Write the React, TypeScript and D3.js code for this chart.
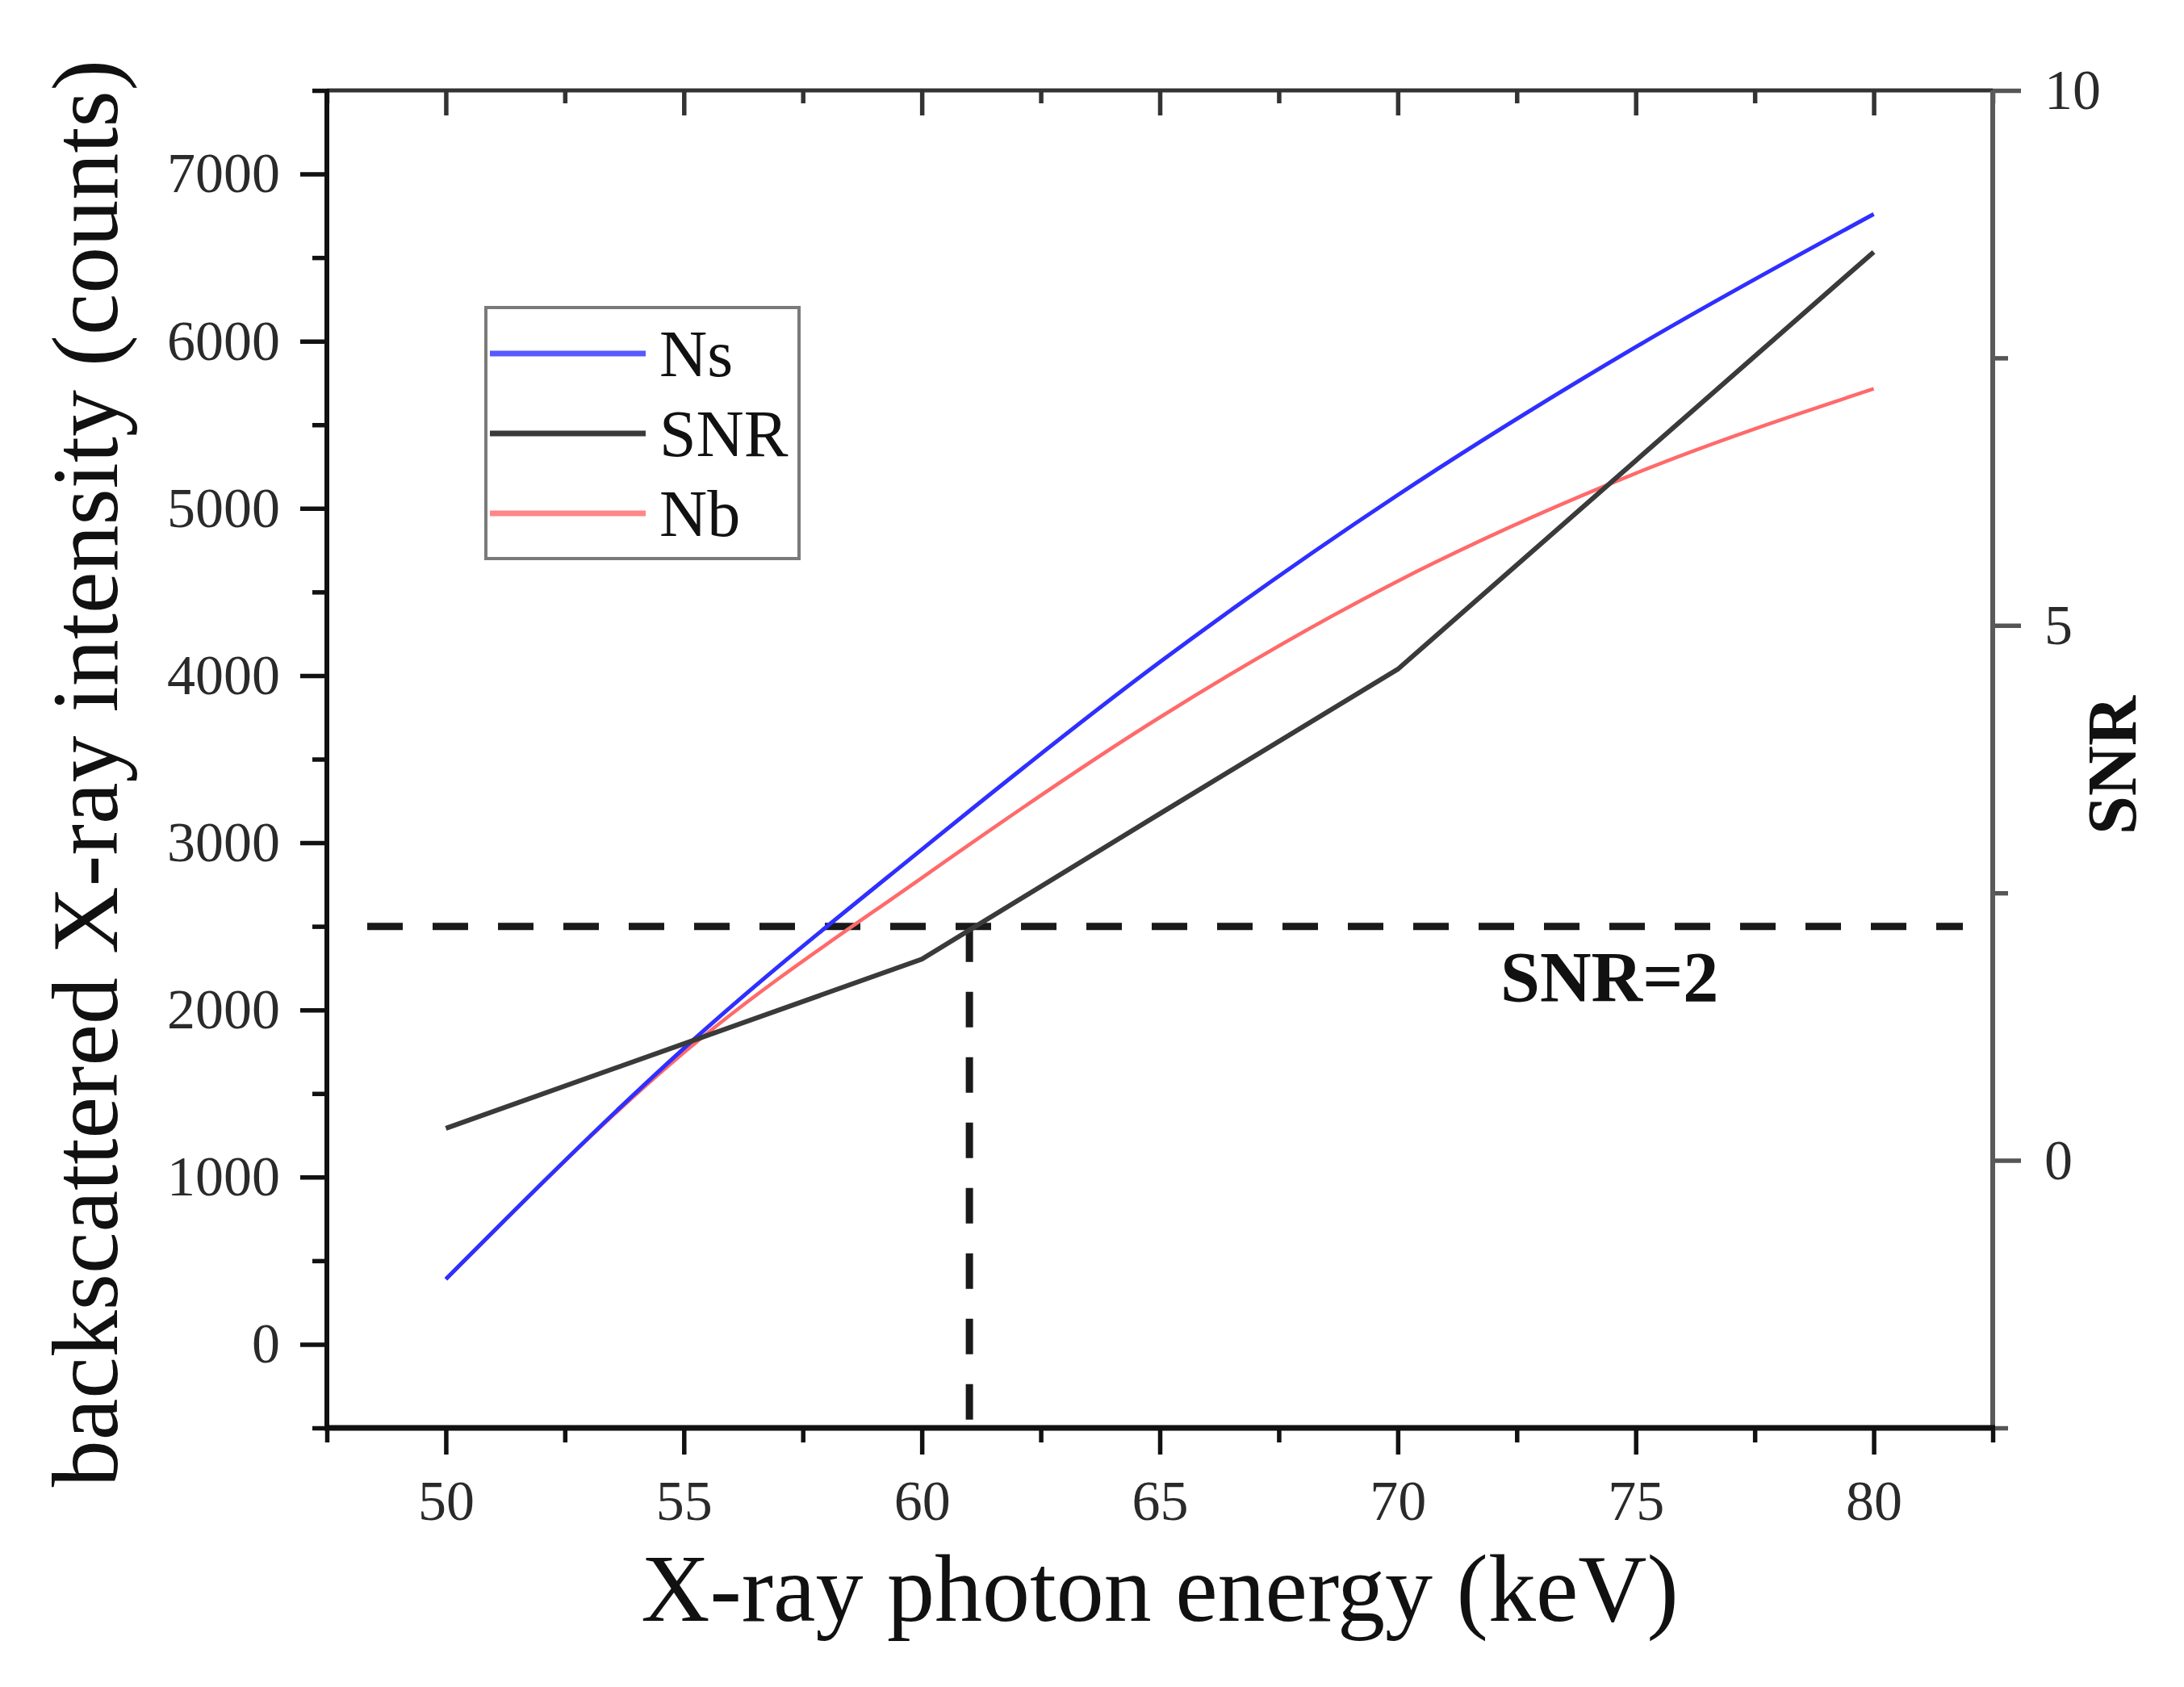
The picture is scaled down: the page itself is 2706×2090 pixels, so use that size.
import { useEffect, useRef } from 'react';
import * as d3 from 'd3';

// values
const energyKeV = [50, 55, 60, 65, 70, 75, 80];
const nsCounts = [390, 1770, 2960, 4080, 5080, 5965, 6760];
const nbCounts = [390, 1745, 2790, 3750, 4565, 5210, 5715];
const snrValues = [0.3, 1.09, 1.88, 3.24, 4.59, 6.54, 8.49];

const energyTicks = [50, 55, 60, 65, 70, 75, 80];
const energyMinorTicks = [47.5, 52.5, 57.5, 62.5, 67.5, 72.5, 77.5, 82.5];
const countTicks = [0, 1000, 2000, 3000, 4000, 5000, 6000, 7000];
const countMinorTicks = [-500, 500, 1500, 2500, 3500, 4500, 5500, 6500, 7500];
const snrTicks = [0, 5, 10];
const snrMinorTicks = [-2.5, 2.5, 7.5];

const thresholdCounts = 2500;
const thresholdEnergy = 61;
const thresholdLabel = 'SNR=2';

const legendLabels = ['Ns', 'SNR', 'Nb'];
const legendColors = ['#2f2fff', '#3a3a3a', '#ff6a6a'];

const W = 2706;
const H = 2090;
const FONT = '"Liberation Serif", "Times New Roman", serif';

export const BackscatterChart = () => {
  const ref = useRef<SVGSVGElement>(null);

  useEffect(() => {
    if (!ref.current) return;
    const svg = d3.select(ref.current);
    svg.selectAll('*').remove();

    const margin = { top: 112, right: 237, bottom: 321, left: 405 };
    const w = W - margin.left - margin.right;
    const h = H - margin.top - margin.bottom;

    const g = svg.append('g').attr('transform', `translate(${margin.left},${margin.top})`);

    const x = d3.scaleLinear().domain([47.5, 82.5]).range([0, w]);
    const yL = d3.scaleLinear().domain([-500, 7500]).range([h, 0]);
    const yR = d3.scaleLinear().domain([-2.5, 10]).range([h, 0]);

    const styleAxis = (sel: any, color: string) => {
      sel.select('.domain').remove();
      sel.selectAll('line').attr('stroke', color).attr('stroke-width', 5.5);
      sel
        .selectAll('text')
        .attr('font-family', FONT)
        .attr('font-size', 70)
        .attr('fill', '#2a2a2a');
    };

    // bottom axis (outward ticks)
    const bMinor = g.append('g').attr('transform', `translate(0,${h})`)
      .call(d3.axisBottom(x).tickValues(energyMinorTicks).tickSize(18).tickFormat(() => ''));
    styleAxis(bMinor, '#111');
    const bMajor = g.append('g').attr('transform', `translate(0,${h})`)
      .call(d3.axisBottom(x).tickValues(energyTicks).tickSize(33).tickPadding(31).tickFormat(d3.format('d')));
    styleAxis(bMajor, '#111');

    // top axis (inward ticks)
    const tMinor = g.append('g').call(d3.axisBottom(x).tickValues(energyMinorTicks).tickSize(16).tickFormat(() => ''));
    styleAxis(tMinor, '#333');
    const tMajor = g.append('g').call(d3.axisBottom(x).tickValues(energyTicks).tickSize(31).tickFormat(() => ''));
    styleAxis(tMajor, '#333');

    // left axis
    const lMinor = g.append('g').call(d3.axisLeft(yL).tickValues(countMinorTicks).tickSize(18).tickFormat(() => ''));
    styleAxis(lMinor, '#111');
    const lMajor = g.append('g')
      .call(d3.axisLeft(yL).tickValues(countTicks).tickSize(33).tickPadding(25).tickFormat(d3.format('d')));
    styleAxis(lMajor, '#111');

    // right axis
    const rMinor = g.append('g').attr('transform', `translate(${w},0)`)
      .call(d3.axisRight(yR).tickValues(snrMinorTicks).tickSize(19).tickFormat(() => ''));
    styleAxis(rMinor, '#555');
    const rMajor = g.append('g').attr('transform', `translate(${w},0)`)
      .call(d3.axisRight(yR).tickValues(snrTicks).tickSize(35).tickPadding(29).tickFormat(d3.format('d')));
    styleAxis(rMajor, '#555');

    // frame lines
    g.append('line').attr('x1', 0).attr('x2', w).attr('y1', 0).attr('y2', 0)
      .attr('stroke', '#333').attr('stroke-width', 5);
    g.append('line').attr('x1', w).attr('x2', w).attr('y1', 0).attr('y2', h)
      .attr('stroke', '#5a5a5a').attr('stroke-width', 6);
    g.append('line').attr('x1', 0).attr('x2', 0).attr('y1', -2).attr('y2', h + 3)
      .attr('stroke', '#111').attr('stroke-width', 6);
    g.append('line').attr('x1', -3).attr('x2', w + 3).attr('y1', h).attr('y2', h)
      .attr('stroke', '#111').attr('stroke-width', 7);

    // threshold dashed lines
    const yT = yL(thresholdCounts);
    g.append('line')
      .attr('x1', x(47.5) + 50).attr('x2', x(82.5) - 37)
      .attr('y1', yT).attr('y2', yT)
      .attr('stroke', '#1a1a1a').attr('stroke-width', 9).attr('stroke-dasharray', '44,37');
    g.append('line')
      .attr('x1', x(thresholdEnergy)).attr('x2', x(thresholdEnergy))
      .attr('y1', yT).attr('y2', h)
      .attr('stroke', '#1a1a1a').attr('stroke-width', 9).attr('stroke-dasharray', '44,37');

    // series
    const countLine = d3.line<number>()
      .x((_, i) => x(energyKeV[i]))
      .y((d) => yL(d))
      .curve(d3.curveMonotoneX);
    const snrLine = d3.line<number>()
      .x((_, i) => x(energyKeV[i]))
      .y((d) => yR(d));

    g.append('path').datum(nbCounts).attr('d', countLine)
      .attr('fill', 'none').attr('stroke', legendColors[2]).attr('stroke-width', 4.5);
    g.append('path').datum(nsCounts).attr('d', countLine)
      .attr('fill', 'none').attr('stroke', legendColors[0]).attr('stroke-width', 5);
    g.append('path').datum(snrValues).attr('d', snrLine)
      .attr('fill', 'none').attr('stroke', legendColors[1]).attr('stroke-width', 6);

    // SNR=2 annotation
    g.append('text')
      .attr('x', x(thresholdEnergy) + 658).attr('y', yT + 92)
      .attr('font-family', FONT).attr('font-size', 88).attr('font-weight', 'bold')
      .attr('fill', '#111')
      .text(thresholdLabel);

    // legend
    const lg = svg.append('g').attr('transform', 'translate(602,381)');
    lg.append('rect').attr('width', 388).attr('height', 311)
      .attr('fill', '#fff').attr('stroke', '#7a7a7a').attr('stroke-width', 4);
    legendLabels.forEach((label, i) => {
      const cy = 57 + i * 99;
      lg.append('line').attr('x1', 5).attr('x2', 198).attr('y1', cy).attr('y2', cy)
        .attr('stroke', legendColors[i]).attr('stroke-width', 7).attr('opacity', i === 1 ? 1 : 0.8);
      lg.append('text').attr('x', 215).attr('y', cy + 28)
        .attr('font-family', FONT).attr('font-size', 82).attr('fill', '#111')
        .text(label);
    });

    // axis titles
    svg.append('text')
      .attr('x', margin.left + w / 2).attr('y', 2008)
      .attr('text-anchor', 'middle')
      .attr('font-family', FONT).attr('font-size', 118).attr('fill', '#111')
      .text('X-ray photon energy (keV)');
    svg.append('text')
      .attr('transform', 'translate(145,958) rotate(-90)')
      .attr('text-anchor', 'middle')
      .attr('font-family', FONT).attr('font-size', 116).attr('fill', '#111')
      .text('backscattered X-ray intensity (counts)');
    svg.append('text')
      .attr('transform', 'translate(2646,948) rotate(-90)')
      .attr('text-anchor', 'middle')
      .attr('font-family', FONT).attr('font-size', 86).attr('font-weight', 'bold').attr('fill', '#111')
      .text('SNR');
  }, []);

  return (
    <svg
      ref={ref}
      width={W}
      height={H}
      style={{ position: 'absolute', left: 0, top: 0, background: '#fff' }}
      role="img"
      aria-label="Backscattered X-ray intensity and SNR versus photon energy"
    />
  );
};

export default function App() {
  return <BackscatterChart />;
}
